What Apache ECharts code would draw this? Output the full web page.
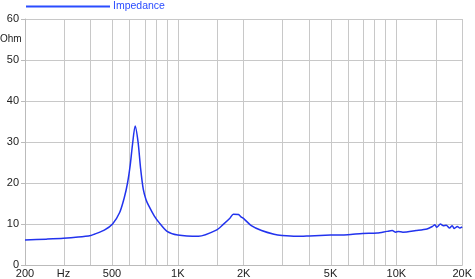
<!DOCTYPE html>
<html><head><meta charset="utf-8">
<script src="https://cdn.jsdelivr.net/npm/echarts@6/dist/echarts.min.js"></script>
<style>html,body{margin:0;padding:0;background:#fff}#c{width:475px;height:279px}</style>
</head><body><div id="c"></div>
<script>
// Frequency (Hz) and impedance (Ohm)
var freqs = [200, 250, 300, 350, 400, 415, 461, 503, 542, 569, 589, 606, 620, 638, 658, 676, 695, 715, 737, 780, 820, 893, 1000, 1244, 1500, 1614, 1731, 1794, 1895, 1940, 2013, 2169, 2416, 2755, 3000, 3500, 4000, 5000, 6000, 7000, 8160, 9040, 9570, 9920, 10200, 10700, 12300, 13800, 14600, 15000, 15300, 15900, 16400, 16900, 17500, 18000, 18400, 19000, 19500, 20000];
var ohms  = [6.1, 6.3, 6.5, 6.8, 7.2, 7.5, 8.5, 10.0, 12.8, 16.4, 20.0, 24.4, 29.2, 33.9, 30.0, 23.5, 18.5, 16.0, 14.4, 12.0, 10.4, 8.2, 7.3, 7.0, 8.5, 9.9, 11.4, 12.4, 12.3, 11.8, 11.2, 9.6, 8.4, 7.5, 7.2, 7.0, 7.1, 7.3, 7.4, 7.7, 7.8, 8.2, 8.4, 8.0, 8.2, 8.0, 8.4, 8.8, 9.4, 9.8, 9.2, 10.0, 9.6, 9.7, 9.0, 9.6, 8.9, 9.4, 9.0, 9.3];
var gridFreqs = [300, 400, 500, 600, 700, 800, 900, 1000, 1500, 2000, 3000, 4000, 5000, 6000, 7000, 8000, 9000, 10000, 15000, 20000];
var labelFreqs = [200, 300, 500, 1000, 2000, 5000, 10000, 20000];
var labelTexts = ['200', 'Hz', '500', '1K', '2K', '5K', '10K', '20K'];
var yTicks = [0, 10, 20, 30, 40, 50, 60];

var lg = function (f) { return Math.log10(f); };
var data = freqs.map(function (f, i) { return [lg(f), ohms[i]]; });
var labelMap = {};
labelFreqs.forEach(function (f, i) { labelMap[f] = labelTexts[i]; });

var chart = echarts.init(document.getElementById('c'));
var FONT = 'Liberation Sans';
chart.setOption({
  animation: false,
  textStyle: { fontFamily: FONT },
  grid: { left: 25, right: 8, top: 19, bottom: 11, containLabel: false },
  legend: {
    left: 26, top: 0, padding: [1, 0, 0, 0],
    data: [{ name: 'Impedance', icon: 'rect' }],
    itemWidth: 84, itemHeight: 2,
    textStyle: { color: '#2a4cff', fontSize: 10.5, fontFamily: FONT, padding: [0, 0, 0, -2] }
  },
  graphic: [{
    type: 'text', left: 0, top: 34,
    style: { text: 'Ohm', fontSize: 10, fontFamily: FONT, fill: '#222' }
  }],
  xAxis: {
    type: 'value', min: lg(200), max: lg(20000),
    axisLine: { show: true, lineStyle: { color: '#bbb' } },
    axisTick: { show: false },
    splitLine: { show: false },
    axisLabel: {
      customValues: labelFreqs.map(lg),
      formatter: function (v) { return labelMap[Math.round(Math.pow(10, v))] || ''; },
      color: '#222', fontSize: 11, margin: 3, fontFamily: FONT
    }
  },
  yAxis: {
    type: 'value', min: yTicks[0], max: yTicks[yTicks.length - 1], interval: 10,
    axisLine: { show: true, lineStyle: { color: '#bbb' } },
    axisTick: { show: true, length: 4, lineStyle: { color: '#bbb' } },
    splitLine: { show: true, lineStyle: { color: '#c8c8c8', width: 1 } },
    axisLabel: { color: '#222', fontSize: 11, margin: 6, fontFamily: FONT }
  },
  series: [
    {
      type: 'line', name: 'grid', data: [], z: 1, silent: true,
      markLine: {
        silent: true, symbol: 'none', label: { show: false },
        lineStyle: { color: '#c8c8c8', type: 'solid', width: 1 },
        data: gridFreqs.map(function (f) { return { xAxis: lg(f) }; })
      }
    },
    {
      type: 'line', name: 'Impedance', data: data, z: 5,
      smooth: 0.25, showSymbol: false, symbol: 'none',
      lineStyle: { color: '#2233ee', width: 1.5 },
      itemStyle: { color: '#2a4cff' }
    }
  ]
});
</script></body></html>
